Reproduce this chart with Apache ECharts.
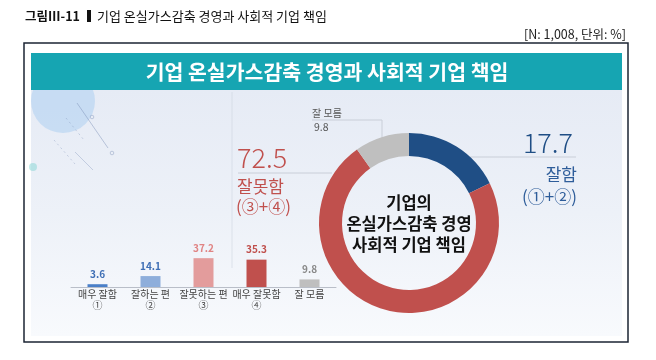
<!DOCTYPE html>
<html>
<head>
<meta charset="utf-8">
<style>
html,body{margin:0;padding:0;background:#fff;}
#chart{width:656px;height:360px;}
</style>
<script src="https://cdn.jsdelivr.net/npm/echarts@6/dist/echarts.min.js"></script>
</head>
<body>
<div id="chart"></div>
<script>
// ---- data ----
const categoryNames = ['매우 잘함', '잘하는 편', '잘못하는 편', '매우 잘못함', '잘 모름'];
const categoryMarks = ['①', '②', '③', '④', ''];
const barValues = [3.6, 14.1, 37.2, 35.3, 9.8];
const donutNames = ['잘함', '잘못함', '잘 모름'];
const donutValues = [17.7, 72.5, 9.8];
const figureTitle = '기업 온실가스감축 경영과 사회적 기업 책임';
const sampleNote = '[N: 1,008, 단위: %]';
const centerText = '기업의\n온실가스감축 경영\n사회적 기업 책임';

// ---- styles ----
const FONT = '"Noto Sans CJK KR", "Noto Sans", sans-serif';
const barColors = ['#4a7fc8', '#8eaedb', '#e39c9c', '#c0504d', '#bfbfbf'];
const barLabelColors = ['#3f6fb5', '#3f6fb5', '#e08484', '#c0504d', '#888888'];
const donutColors = ['#1f4e85', '#c0504d', '#bfbfbf'];
const RED = '#c0504d', NAVY = '#1f4e85';
const lineCol = '#c9ced8';

const chart = echarts.init(document.getElementById('chart'), null, {renderer: 'canvas'});

const option = {
  backgroundColor: '#ffffff',
  animation: false,
  textStyle: {fontFamily: FONT},
  graphic: [
    // outer frame
    {type: 'rect', z: -10, shape: {x: 24, y: 43, width: 604, height: 299},
     style: {fill: '#ffffff', stroke: '#1b2433', lineWidth: 1.5}},
    // content background
    {type: 'rect', z: -9, shape: {x: 31, y: 90, width: 591, height: 246},
     style: {fill: new echarts.graphic.LinearGradient(0, 0, 0, 1, [
       {offset: 0, color: '#e6ebf5'}, {offset: 0.5, color: '#edf1f8'}, {offset: 1, color: '#f8fafd'}])}},
    // decorative circle and lines
    {type: 'circle', z: -8, shape: {cx: 63, cy: 101, r: 32},
     style: {fill: 'rgba(178,210,242,0.6)'}},
    {type: 'circle', z: -8, shape: {cx: 33, cy: 167, r: 4},
     style: {fill: 'rgba(140,215,215,0.55)'}},
    {type: 'line', z: -8, shape: {x1: 77, y1: 103, x2: 108, y2: 148},
     style: {stroke: 'rgba(120,140,180,0.45)', lineWidth: 1}},
    {type: 'line', z: -8, shape: {x1: 66, y1: 118, x2: 84, y2: 140},
     style: {stroke: 'rgba(120,140,180,0.35)', lineWidth: 1, lineDash: [2, 3]}},
    {type: 'line', z: -8, shape: {x1: 54, y1: 140, x2: 75, y2: 164},
     style: {stroke: 'rgba(120,140,180,0.35)', lineWidth: 1, lineDash: [2, 3]}},
    {type: 'line', z: -8, shape: {x1: 75, y1: 152, x2: 93, y2: 170},
     style: {stroke: 'rgba(120,140,180,0.35)', lineWidth: 1}},
    {type: 'circle', z: -8, shape: {cx: 92, cy: 117, r: 1.8},
     style: {fill: 'none', stroke: 'rgba(120,140,180,0.5)', lineWidth: 0.8}},
    {type: 'circle', z: -8, shape: {cx: 112, cy: 153, r: 1.8},
     style: {fill: 'none', stroke: 'rgba(120,140,180,0.5)', lineWidth: 0.8}},
    // teal header
    {type: 'rect', z: -7, shape: {x: 31, y: 53, width: 591, height: 37},
     style: {fill: '#16a5b2'}},
    {type: 'text', z: 5, x: 327, y: 72,
     style: {text: figureTitle, fill: '#ffffff', font: 'bold 20.5px ' + FONT,
             align: 'center', verticalAlign: 'middle'}},
    // figure caption
    {type: 'text', z: 5, x: 25, y: 16,
     style: {text: '그림Ⅲ-11', fill: '#111', font: 'bold 12.5px ' + FONT, verticalAlign: 'middle'}},
    {type: 'rect', z: 5, shape: {x: 87, y: 10, width: 4, height: 12}, style: {fill: '#111'}},
    {type: 'text', z: 5, x: 97, y: 16,
     style: {text: figureTitle, fill: '#111', font: '13px ' + FONT, verticalAlign: 'middle'}},
    {type: 'text', z: 5, x: 626, y: 34,
     style: {text: sampleNote, fill: '#222', font: '12.5px ' + FONT, align: 'right', verticalAlign: 'middle'}},
    // faint divider
    {type: 'line', z: -6, shape: {x1: 232, y1: 92, x2: 232, y2: 268},
     style: {stroke: 'rgba(200,208,222,0.5)', lineWidth: 1}},
    // '잘 모름' callout
    {type: 'text', z: 5, x: 312, y: 113,
     style: {text: donutNames[2], fill: '#555', font: '10px ' + FONT, verticalAlign: 'middle'}},
    {type: 'text', z: 5, x: 314, y: 127,
     style: {text: String(donutValues[2]), fill: '#555', font: '10.5px ' + FONT, verticalAlign: 'middle'}},
    {type: 'polyline', z: 1, shape: {points: [[312, 120], [382, 120], [382, 140]]},
     style: {stroke: lineCol, lineWidth: 1, fill: null}},
    // 72.5 callout
    {type: 'text', z: 5, x: 237, y: 158,
     style: {text: String(donutValues[1]), fill: RED, font: '300 27px ' + FONT, verticalAlign: 'middle'}},
    {type: 'line', z: 1, shape: {x1: 238, y1: 173, x2: 332, y2: 173},
     style: {stroke: lineCol, lineWidth: 1}},
    {type: 'text', z: 5, x: 237, y: 187,
     style: {text: '잘못함', fill: RED, font: '17px ' + FONT, verticalAlign: 'middle'}},
    {type: 'text', z: 5, x: 236, y: 207,
     style: {text: '(③+④)', fill: RED, font: '17px ' + FONT, verticalAlign: 'middle'}},
    // 17.7 callout
    {type: 'text', z: 5, x: 573, y: 143,
     style: {text: String(donutValues[0]), fill: NAVY, font: '300 27px ' + FONT, align: 'right', verticalAlign: 'middle'}},
    {type: 'line', z: 1, shape: {x1: 470, y1: 157, x2: 576, y2: 157},
     style: {stroke: lineCol, lineWidth: 1}},
    {type: 'text', z: 5, x: 577, y: 175,
     style: {text: '잘함', fill: '#2e5d9a', font: '17px ' + FONT, align: 'right', verticalAlign: 'middle'}},
    {type: 'text', z: 5, x: 577, y: 197,
     style: {text: '(①+②)', fill: '#2e5d9a', font: '17px ' + FONT, align: 'right', verticalAlign: 'middle'}},
    // donut center text
    {type: 'text', z: 5, x: 409, y: 224,
     style: {text: centerText, fill: '#111', font: 'bold 16.5px ' + FONT,
             align: 'center', verticalAlign: 'middle', lineHeight: 21}}
  ],
  grid: {left: 71, width: 265, top: 256, height: 31, containLabel: false},
  xAxis: {
    type: 'category',
    data: categoryNames.map((n, i) => categoryMarks[i] ? n + '\n' + categoryMarks[i] : n),
    axisLine: {lineStyle: {color: '#b9bec8', width: 1}},
    axisTick: {show: false},
    axisLabel: {color: '#444', fontSize: 10, lineHeight: 11, margin: 2, interval: 0}
  },
  yAxis: {type: 'value', min: 0, max: 40, show: false, splitLine: {show: false}},
  series: [
    {
      type: 'bar',
      barWidth: 20,
      data: barValues.map((v, i) => ({value: v, itemStyle: {color: barColors[i]},
        label: {color: barLabelColors[i]}})),
      label: {show: true, position: 'top', distance: 5, fontSize: 10, fontWeight: 'bold', fontFamily: FONT}
    },
    {
      type: 'pie',
      center: [409, 223],
      radius: [67, 90],
      startAngle: 90,
      clockwise: true,
      silent: true,
      label: {show: false},
      labelLine: {show: false},
      data: donutNames.map((n, i) => ({name: n, value: donutValues[i], itemStyle: {color: donutColors[i]}}))
    }
  ]
};
chart.setOption(option);
</script>
</body>
</html>
